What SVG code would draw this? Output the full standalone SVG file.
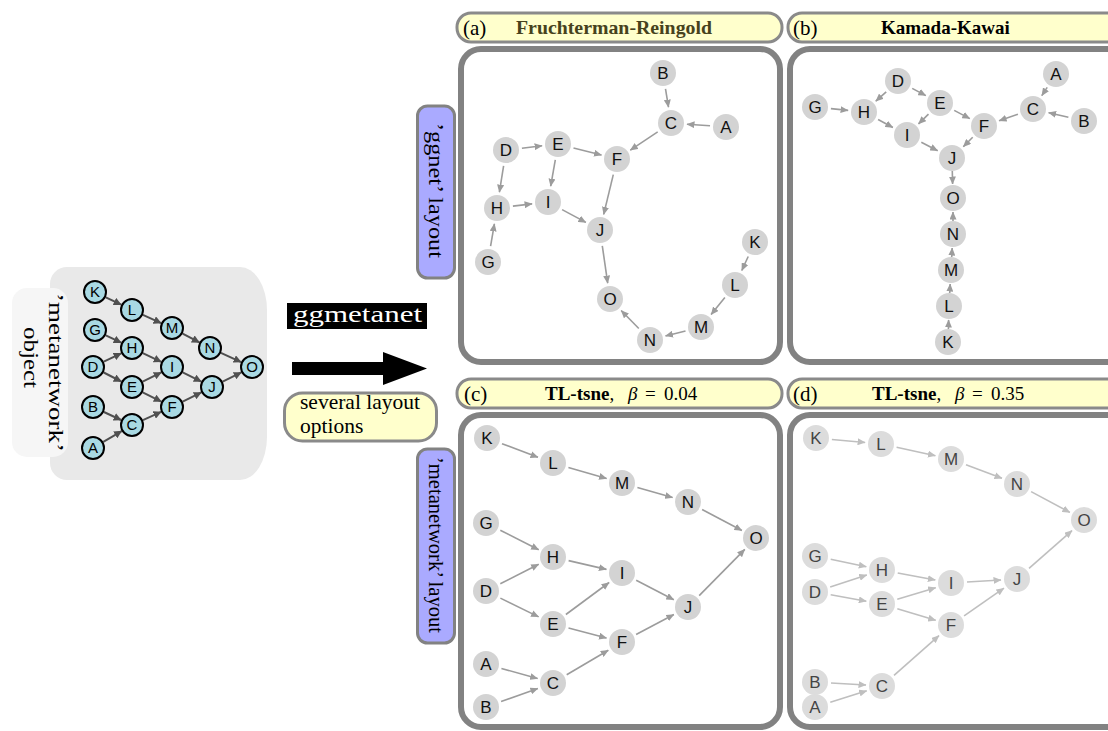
<svg xmlns="http://www.w3.org/2000/svg" width="1108" height="731" viewBox="0 0 1108 731">
<style>
.serif{font-family:"Liberation Serif","DejaVu Serif",serif;fill:#000}
.hdr{fill:#ffffcc;stroke:#8a8a8a;stroke-width:3}
.panel{fill:#fff;stroke:#828282;stroke-width:6}
.side{fill:#aaaaff;stroke:#828282;stroke-width:3}
.nd circle{fill:#d3d3d3}
.nd text{font-family:"Liberation Sans",Arial,sans-serif;font-size:17px;text-anchor:middle;fill:#111}
.nl circle{fill:#dcdcdc}
.nl text{font-family:"Liberation Sans",Arial,sans-serif;font-size:17px;text-anchor:middle;fill:#444}
.no circle{fill:#a9d9e3;stroke:#000;stroke-width:2}
.no text{font-family:"Liberation Sans",Arial,sans-serif;font-size:15px;text-anchor:middle;fill:#000}
.eo line{stroke:#505050;stroke-width:2;marker-end:url(#ad)}
.eg line{stroke:#9c9c9c;stroke-width:1.6;marker-end:url(#ag)}
.el line{stroke:#bfbfbf;stroke-width:1.6;marker-end:url(#al)}
</style>
<defs>
<marker id="ad" viewBox="0 0 8 8" refX="7.5" refY="4" markerWidth="8" markerHeight="8" markerUnits="userSpaceOnUse" orient="auto"><path d="M0,0 L8,4 L0,8 z" fill="#505050"/></marker>
<marker id="ag" viewBox="0 0 8 7" refX="7.5" refY="3.5" markerWidth="8" markerHeight="7" markerUnits="userSpaceOnUse" orient="auto"><path d="M0,0 L8,3.5 L0,7 z" fill="#9c9c9c"/></marker>
<marker id="al" viewBox="0 0 8 7" refX="7.5" refY="3.5" markerWidth="8" markerHeight="7" markerUnits="userSpaceOnUse" orient="auto"><path d="M0,0 L8,3.5 L0,7 z" fill="#bfbfbf"/></marker>
</defs>
<rect width="1108" height="731" fill="#fff"/>

<!-- left metanetwork object -->
<g id="object-bg">
<path d="M67,267 H240 A27,43 0 0 1 267,310 V437 A27,43 0 0 1 240,480 H67 A17,17 0 0 1 50,463 V284 A17,17 0 0 1 67,267 Z" fill="#e9e9e9"/>
</g>
<g id="object-label">
<rect x="12" y="288" width="56" height="169" rx="15" fill="#f6f6f6"/>
<text class="serif" font-size="22" transform="translate(49,293) rotate(90)" textLength="159" lengthAdjust="spacingAndGlyphs">’metanetwork’</text>
<text class="serif" font-size="22" transform="translate(24,327) rotate(90)" textLength="61" lengthAdjust="spacingAndGlyphs">object</text>
</g>
<g id="object-edges" class="eo">
<line x1="105.8" y1="297.3" x2="121.2" y2="304.7"/>
<line x1="142.9" y1="314.9" x2="161.1" y2="323.1"/>
<line x1="182.6" y1="333.6" x2="199.4" y2="342.4"/>
<line x1="220.9" y1="352.9" x2="241.1" y2="362.1"/>
<line x1="105.8" y1="335.3" x2="121.2" y2="342.7"/>
<line x1="103.8" y1="361.7" x2="121.2" y2="353.3"/>
<line x1="103.7" y1="372.5" x2="121.3" y2="381.5"/>
<line x1="142.8" y1="353.1" x2="161.2" y2="361.9"/>
<line x1="142.7" y1="381.6" x2="161.3" y2="372.4"/>
<line x1="182.7" y1="372.4" x2="201.3" y2="381.6"/>
<line x1="142.7" y1="392.4" x2="161.3" y2="401.6"/>
<line x1="182.7" y1="401.6" x2="201.3" y2="392.4"/>
<line x1="222.7" y1="381.6" x2="241.3" y2="372.4"/>
<line x1="103.9" y1="412" x2="121.1" y2="420"/>
<line x1="103.3" y1="441.9" x2="121.7" y2="431.1"/>
<line x1="142.9" y1="420.1" x2="161.1" y2="411.9"/>
</g>
<g id="o-K" class="no"><circle cx="95" cy="292" r="11"/><text x="95" y="297.4">K</text></g>
<g id="o-L" class="no"><circle cx="132" cy="310" r="11"/><text x="132" y="315.4">L</text></g>
<g id="o-M" class="no"><circle cx="172" cy="328" r="11"/><text x="172" y="333.4">M</text></g>
<g id="o-N" class="no"><circle cx="210" cy="348" r="11"/><text x="210" y="353.4">N</text></g>
<g id="o-O" class="no"><circle cx="252" cy="367" r="11"/><text x="252" y="372.4">O</text></g>
<g id="o-G" class="no"><circle cx="95" cy="330" r="11"/><text x="95" y="335.4">G</text></g>
<g id="o-H" class="no"><circle cx="132" cy="348" r="11"/><text x="132" y="353.4">H</text></g>
<g id="o-D" class="no"><circle cx="93" cy="367" r="11"/><text x="93" y="372.4">D</text></g>
<g id="o-I" class="no"><circle cx="172" cy="367" r="11"/><text x="172" y="372.4">I</text></g>
<g id="o-E" class="no"><circle cx="132" cy="387" r="11"/><text x="132" y="392.4">E</text></g>
<g id="o-J" class="no"><circle cx="212" cy="387" r="11"/><text x="212" y="392.4">J</text></g>
<g id="o-B" class="no"><circle cx="93" cy="407" r="11"/><text x="93" y="412.4">B</text></g>
<g id="o-F" class="no"><circle cx="172" cy="407" r="11"/><text x="172" y="412.4">F</text></g>
<g id="o-C" class="no"><circle cx="132" cy="425" r="11"/><text x="132" y="430.4">C</text></g>
<g id="o-A" class="no"><circle cx="93" cy="448" r="11"/><text x="93" y="453.4">A</text></g>

<!-- ggmetanet + arrow + options -->
<g id="ggmetanet">
<rect x="287" y="303" width="140" height="26" fill="#000"/>
<text class="serif" x="293" y="322" font-size="24" style="fill:#fff" textLength="129" lengthAdjust="spacingAndGlyphs">ggmetanet</text>
</g>
<g id="big-arrow">
<path d="M292,362 H383 V352 L427,368.5 L383,385 V375 H292 Z" fill="#000"/>
</g>
<g id="options">
<rect x="284.5" y="393" width="152" height="48" rx="18" class="hdr"/>
<text class="serif" x="300" y="409" font-size="21.5">several layout</text>
<text class="serif" x="300" y="433" font-size="21.5">options</text>
</g>

<!-- side labels -->
<g id="label-ggnet">
<rect x="417.5" y="106" width="37" height="172" rx="10" class="side"/>
<text class="serif" font-size="21" transform="translate(429,123) rotate(90)" textLength="135" lengthAdjust="spacingAndGlyphs">’ggnet’ layout</text>
</g>
<g id="label-metanetwork">
<rect x="417.5" y="449" width="37" height="194" rx="10" class="side"/>
<text class="serif" font-size="21" transform="translate(429,457) rotate(90)" textLength="176" lengthAdjust="spacingAndGlyphs">’metanetwork’ layout</text>
</g>

<!-- headers -->
<g id="header-a">
<rect x="457" y="13" width="325" height="29" rx="14" class="hdr"/>
<text class="serif" x="463" y="34.5" font-size="21">(a)</text>
<text class="serif" x="516" y="34" font-size="19" font-weight="bold" style="fill:#46421c" textLength="196" lengthAdjust="spacingAndGlyphs">Fruchterman-Reingold</text>
</g>
<g id="header-b">
<rect x="788" y="13" width="340" height="29" rx="14" class="hdr"/>
<text class="serif" x="793" y="34.5" font-size="21">(b)</text>
<text class="serif" x="881" y="34" font-size="19" font-weight="bold">Kamada-Kawai</text>
</g>
<g id="header-c">
<rect x="457" y="379" width="325" height="29" rx="14" class="hdr"/>
<text class="serif" x="464" y="400.5" font-size="21">(c)</text>
<text class="serif" y="400" font-size="19"><tspan x="545" font-weight="bold">TL-tsne</tspan><tspan>,</tspan><tspan x="628" font-style="italic">β</tspan><tspan x="645">=</tspan><tspan x="664">0.04</tspan></text>
</g>
<g id="header-d">
<rect x="788" y="379" width="340" height="29" rx="14" class="hdr"/>
<text class="serif" x="793" y="400.5" font-size="21">(d)</text>
<text class="serif" y="400" font-size="19"><tspan x="872" font-weight="bold">TL-tsne</tspan><tspan>,</tspan><tspan x="955" font-style="italic">β</tspan><tspan x="972">=</tspan><tspan x="991">0.35</tspan></text>
</g>

<!-- panels -->
<rect id="panel-a" x="461" y="49" width="319" height="313" rx="20" class="panel"/>
<rect id="panel-b" x="790" y="49" width="340" height="313" rx="20" class="panel"/>
<rect id="panel-c" x="461" y="415" width="319" height="312" rx="20" class="panel"/>
<rect id="panel-d" x="790" y="415" width="340" height="312" rx="20" class="panel"/>

<!-- panel a -->
<g id="edges-a" class="eg">
<line x1="710" y1="125.8" x2="687" y2="124.2"/>
<line x1="665.5" y1="88.8" x2="668.5" y2="107.2"/>
<line x1="657.7" y1="131.9" x2="630.3" y2="150.1"/>
<line x1="521.9" y1="148.2" x2="542.1" y2="145.8"/>
<line x1="503.6" y1="165.8" x2="499.4" y2="192.2"/>
<line x1="573.5" y1="147.9" x2="601.5" y2="155.1"/>
<line x1="555.3" y1="159.8" x2="550.7" y2="186.2"/>
<line x1="613.3" y1="174.6" x2="603.7" y2="214.4"/>
<line x1="490.6" y1="246.2" x2="494.4" y2="223.8"/>
<line x1="512.9" y1="206.1" x2="532.1" y2="203.9"/>
<line x1="562.1" y1="209.6" x2="585.9" y2="222.4"/>
<line x1="602.3" y1="245.8" x2="607.7" y2="283.2"/>
<line x1="748.2" y1="256.5" x2="741.8" y2="270.5"/>
<line x1="724.9" y1="297.4" x2="711.1" y2="314.6"/>
<line x1="685.5" y1="331" x2="665.5" y2="336"/>
<line x1="638.8" y1="328.5" x2="621.2" y2="310.5"/>
</g>
<g id="a-A" class="nd"><circle cx="726" cy="127" r="13"/><text x="726" y="133">A</text></g>
<g id="a-B" class="nd"><circle cx="663" cy="73" r="13"/><text x="663" y="79">B</text></g>
<g id="a-C" class="nd"><circle cx="671" cy="123" r="13"/><text x="671" y="129">C</text></g>
<g id="a-D" class="nd"><circle cx="506" cy="150" r="13"/><text x="506" y="156">D</text></g>
<g id="a-E" class="nd"><circle cx="558" cy="144" r="13"/><text x="558" y="150">E</text></g>
<g id="a-F" class="nd"><circle cx="617" cy="159" r="13"/><text x="617" y="165">F</text></g>
<g id="a-G" class="nd"><circle cx="488" cy="262" r="13"/><text x="488" y="268">G</text></g>
<g id="a-H" class="nd"><circle cx="497" cy="208" r="13"/><text x="497" y="214">H</text></g>
<g id="a-I" class="nd"><circle cx="548" cy="202" r="13"/><text x="548" y="208">I</text></g>
<g id="a-J" class="nd"><circle cx="600" cy="230" r="13"/><text x="600" y="236">J</text></g>
<g id="a-K" class="nd"><circle cx="755" cy="242" r="13"/><text x="755" y="248">K</text></g>
<g id="a-L" class="nd"><circle cx="735" cy="285" r="13"/><text x="735" y="291">L</text></g>
<g id="a-M" class="nd"><circle cx="701" cy="327" r="13"/><text x="701" y="333">M</text></g>
<g id="a-N" class="nd"><circle cx="650" cy="340" r="13"/><text x="650" y="346">N</text></g>
<g id="a-O" class="nd"><circle cx="610" cy="299" r="13"/><text x="610" y="305">O</text></g>

<!-- panel b -->
<g id="edges-b" class="eg">
<line x1="1047.2" y1="87.4" x2="1041.8" y2="95.6"/>
<line x1="1068.4" y1="117.3" x2="1048.6" y2="112.7"/>
<line x1="1017.9" y1="114.2" x2="999.1" y2="120.8"/>
<line x1="912.2" y1="88.4" x2="925.8" y2="95.6"/>
<line x1="886.2" y1="91.8" x2="875.8" y2="101.2"/>
<line x1="954.2" y1="110.4" x2="969.8" y2="118.6"/>
<line x1="928.5" y1="114.1" x2="918.5" y2="123.9"/>
<line x1="972.7" y1="137.3" x2="963.3" y2="146.7"/>
<line x1="830.9" y1="108.6" x2="848.1" y2="110.4"/>
<line x1="878.1" y1="119.5" x2="892.9" y2="127.5"/>
<line x1="921.3" y1="142.3" x2="937.7" y2="150.7"/>
<line x1="952.3" y1="171" x2="952.6" y2="184"/>
<line x1="948.4" y1="329" x2="948.6" y2="320"/>
<line x1="949.7" y1="293" x2="950.2" y2="284"/>
<line x1="951.7" y1="257" x2="952.2" y2="248"/>
<line x1="953" y1="221" x2="953" y2="212"/>
</g>
<g id="b-A" class="nd"><circle cx="1056" cy="74" r="13"/><text x="1056" y="80">A</text></g>
<g id="b-B" class="nd"><circle cx="1084" cy="121" r="13"/><text x="1084" y="127">B</text></g>
<g id="b-C" class="nd"><circle cx="1033" cy="109" r="13"/><text x="1033" y="115">C</text></g>
<g id="b-D" class="nd"><circle cx="898" cy="81" r="13"/><text x="898" y="87">D</text></g>
<g id="b-E" class="nd"><circle cx="940" cy="103" r="13"/><text x="940" y="109">E</text></g>
<g id="b-F" class="nd"><circle cx="984" cy="126" r="13"/><text x="984" y="132">F</text></g>
<g id="b-G" class="nd"><circle cx="815" cy="107" r="13"/><text x="815" y="113">G</text></g>
<g id="b-H" class="nd"><circle cx="864" cy="112" r="13"/><text x="864" y="118">H</text></g>
<g id="b-I" class="nd"><circle cx="907" cy="135" r="13"/><text x="907" y="141">I</text></g>
<g id="b-J" class="nd"><circle cx="952" cy="158" r="13"/><text x="952" y="164">J</text></g>
<g id="b-K" class="nd"><circle cx="948" cy="342" r="13"/><text x="948" y="348">K</text></g>
<g id="b-L" class="nd"><circle cx="949" cy="306" r="13"/><text x="949" y="312">L</text></g>
<g id="b-M" class="nd"><circle cx="951" cy="270" r="13"/><text x="951" y="276">M</text></g>
<g id="b-N" class="nd"><circle cx="953" cy="234" r="13"/><text x="953" y="240">N</text></g>
<g id="b-O" class="nd"><circle cx="953" cy="198" r="13"/><text x="953" y="204">O</text></g>

<!-- panel c -->
<g id="edges-c" class="eg">
<line x1="501.4" y1="668.4" x2="537.6" y2="678.6"/>
<line x1="501.1" y1="701.6" x2="537.9" y2="688.4"/>
<line x1="566.7" y1="674.8" x2="608.3" y2="650.2"/>
<line x1="500.4" y1="598.1" x2="538.6" y2="616.9"/>
<line x1="500.3" y1="583.8" x2="538.7" y2="564.2"/>
<line x1="568.5" y1="628" x2="606.5" y2="638"/>
<line x1="565.9" y1="614.5" x2="609.1" y2="582.5"/>
<line x1="636.1" y1="634.5" x2="673.9" y2="614.5"/>
<line x1="500.3" y1="530.2" x2="538.7" y2="549.8"/>
<line x1="568.6" y1="560.6" x2="606.4" y2="569.4"/>
<line x1="636.2" y1="580.3" x2="673.8" y2="599.7"/>
<line x1="699.2" y1="595.6" x2="744.8" y2="549.4"/>
<line x1="502" y1="443.7" x2="538" y2="457.3"/>
<line x1="568.4" y1="467.5" x2="606.6" y2="478.5"/>
<line x1="637.4" y1="487.4" x2="672.6" y2="497.6"/>
<line x1="702.1" y1="509.5" x2="741.9" y2="530.5"/>
</g>
<g id="c-A" class="nd"><circle cx="486" cy="664" r="13"/><text x="486" y="670">A</text></g>
<g id="c-B" class="nd"><circle cx="486" cy="707" r="13"/><text x="486" y="713">B</text></g>
<g id="c-C" class="nd"><circle cx="553" cy="683" r="13"/><text x="553" y="689">C</text></g>
<g id="c-D" class="nd"><circle cx="486" cy="591" r="13"/><text x="486" y="597">D</text></g>
<g id="c-E" class="nd"><circle cx="553" cy="624" r="13"/><text x="553" y="630">E</text></g>
<g id="c-F" class="nd"><circle cx="622" cy="642" r="13"/><text x="622" y="648">F</text></g>
<g id="c-G" class="nd"><circle cx="486" cy="523" r="13"/><text x="486" y="529">G</text></g>
<g id="c-H" class="nd"><circle cx="553" cy="557" r="13"/><text x="553" y="563">H</text></g>
<g id="c-I" class="nd"><circle cx="622" cy="573" r="13"/><text x="622" y="579">I</text></g>
<g id="c-J" class="nd"><circle cx="688" cy="607" r="13"/><text x="688" y="613">J</text></g>
<g id="c-K" class="nd"><circle cx="487" cy="438" r="13"/><text x="487" y="444">K</text></g>
<g id="c-L" class="nd"><circle cx="553" cy="463" r="13"/><text x="553" y="469">L</text></g>
<g id="c-M" class="nd"><circle cx="622" cy="483" r="13"/><text x="622" y="489">M</text></g>
<g id="c-N" class="nd"><circle cx="688" cy="502" r="13"/><text x="688" y="508">N</text></g>
<g id="c-O" class="nd"><circle cx="756" cy="538" r="13"/><text x="756" y="544">O</text></g>

<!-- panel d -->
<g id="edges-d" class="el">
<line x1="830.3" y1="702.2" x2="866.7" y2="690.8"/>
<line x1="831" y1="683" x2="866" y2="685"/>
<line x1="894" y1="675.4" x2="939" y2="635.6"/>
<line x1="830.7" y1="594.8" x2="866.3" y2="601.2"/>
<line x1="830.2" y1="587" x2="866.8" y2="575"/>
<line x1="897.3" y1="608.7" x2="935.7" y2="620.3"/>
<line x1="897.3" y1="599.3" x2="935.7" y2="587.7"/>
<line x1="964.1" y1="615.8" x2="1003.9" y2="588.2"/>
<line x1="830.7" y1="559.3" x2="866.3" y2="566.7"/>
<line x1="897.7" y1="573" x2="935.3" y2="580"/>
<line x1="967" y1="582" x2="1001" y2="580"/>
<line x1="1029" y1="568.4" x2="1072" y2="530.6"/>
<line x1="831.9" y1="439.5" x2="865.1" y2="442.5"/>
<line x1="896.6" y1="447.3" x2="935.4" y2="455.7"/>
<line x1="966" y1="464.7" x2="1002" y2="478.3"/>
<line x1="1031.1" y1="491.6" x2="1069.9" y2="512.4"/>
</g>
<g id="d-B" class="nl"><circle cx="815" cy="682" r="13"/><text x="815" y="688">B</text></g>
<g id="d-A" class="nl"><circle cx="815" cy="707" r="13"/><text x="815" y="713">A</text></g>
<g id="d-C" class="nl"><circle cx="882" cy="686" r="13"/><text x="882" y="692">C</text></g>
<g id="d-D" class="nl"><circle cx="815" cy="592" r="13"/><text x="815" y="598">D</text></g>
<g id="d-E" class="nl"><circle cx="882" cy="604" r="13"/><text x="882" y="610">E</text></g>
<g id="d-F" class="nl"><circle cx="951" cy="625" r="13"/><text x="951" y="631">F</text></g>
<g id="d-G" class="nl"><circle cx="815" cy="556" r="13"/><text x="815" y="562">G</text></g>
<g id="d-H" class="nl"><circle cx="882" cy="570" r="13"/><text x="882" y="576">H</text></g>
<g id="d-I" class="nl"><circle cx="951" cy="583" r="13"/><text x="951" y="589">I</text></g>
<g id="d-J" class="nl"><circle cx="1017" cy="579" r="13"/><text x="1017" y="585">J</text></g>
<g id="d-K" class="nl"><circle cx="816" cy="438" r="13"/><text x="816" y="444">K</text></g>
<g id="d-L" class="nl"><circle cx="881" cy="444" r="13"/><text x="881" y="450">L</text></g>
<g id="d-M" class="nl"><circle cx="951" cy="459" r="13"/><text x="951" y="465">M</text></g>
<g id="d-N" class="nl"><circle cx="1017" cy="484" r="13"/><text x="1017" y="490">N</text></g>
<g id="d-O" class="nl"><circle cx="1084" cy="520" r="13"/><text x="1084" y="526">O</text></g>
</svg>
